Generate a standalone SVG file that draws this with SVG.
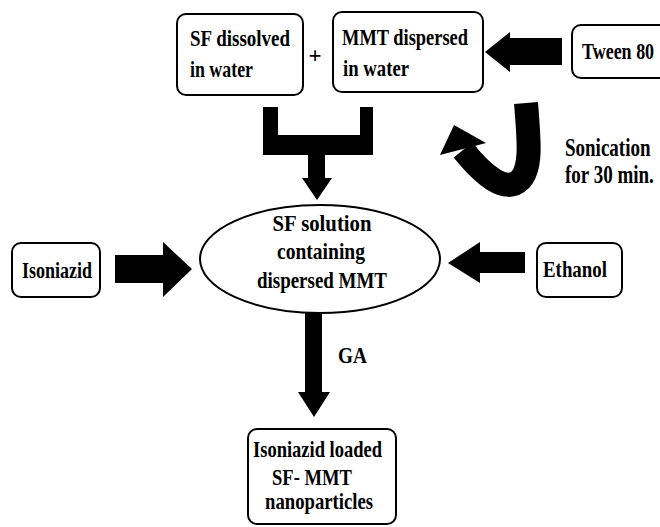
<svg xmlns="http://www.w3.org/2000/svg" width="660" height="527" viewBox="0 0 660 527">
  <defs>
    <style>
      .box { fill: #ffffff; stroke: #000000; stroke-width: 2; }
      .lbl { font-family: "Liberation Serif", "Times New Roman", serif; font-weight: bold; font-size: 23px; fill: #000000; }
      .tall { font-family: "Liberation Serif", "Times New Roman", serif; font-weight: bold; font-size: 19px; fill: #000000; }
      .arrow { fill: #000000; stroke: none; }
    </style>
  </defs>
  <rect width="660" height="527" fill="#ffffff"/>

  <!-- process steps -->
  <g id="sf-water">
    <rect class="box" x="177" y="14" width="126" height="81" rx="9"/>
    <text class="lbl" x="190" y="46" textLength="100" lengthAdjust="spacingAndGlyphs">SF dissolved</text>
    <text class="lbl" x="190" y="77" textLength="63" lengthAdjust="spacingAndGlyphs">in water</text>
  </g>
  <g id="plus">
    <text class="lbl" x="315" y="63" text-anchor="middle">+</text>
  </g>
  <g id="mmt-water">
    <rect class="box" x="333" y="12" width="150" height="80" rx="9"/>
    <text class="lbl" x="342" y="45" textLength="126" lengthAdjust="spacingAndGlyphs">MMT dispersed</text>
    <text class="lbl" x="343" y="76" textLength="66" lengthAdjust="spacingAndGlyphs">in water</text>
  </g>
  <g id="tween">
    <rect class="box" x="572" y="25" width="100" height="53" rx="9"/>
    <text class="tall" style="font-size:18px" transform="translate(582,59) scale(1,1.27)">Tween 80</text>
  </g>
  <g id="sonication">
    <text class="tall" transform="translate(565,156) scale(1,1.28)">Sonication</text>
    <text class="tall" transform="translate(565,183) scale(1,1.28)">for 30 min.</text>
  </g>
  <g id="sf-solution">
    <ellipse class="box" cx="320" cy="259" rx="120" ry="54"/>
    <text class="lbl" x="322" y="231" text-anchor="middle" textLength="99" lengthAdjust="spacingAndGlyphs">SF solution</text>
    <text class="lbl" x="321" y="259" text-anchor="middle" textLength="88" lengthAdjust="spacingAndGlyphs">containing</text>
    <text class="lbl" x="322" y="288" text-anchor="middle" textLength="130" lengthAdjust="spacingAndGlyphs">dispersed MMT</text>
  </g>
  <g id="isoniazid">
    <rect class="box" x="12" y="243" width="88" height="54" rx="9"/>
    <text class="lbl" x="22" y="278" textLength="70" lengthAdjust="spacingAndGlyphs">Isoniazid</text>
  </g>
  <g id="ethanol">
    <rect class="box" x="537" y="243" width="85" height="54" rx="9"/>
    <text class="lbl" x="543" y="277" textLength="64" lengthAdjust="spacingAndGlyphs">Ethanol</text>
  </g>
  <g id="ga">
    <text class="lbl" x="338" y="363" textLength="29" lengthAdjust="spacingAndGlyphs">GA</text>
  </g>
  <g id="nanoparticles">
    <rect class="box" x="248" y="429" width="148" height="95" rx="9"/>
    <text class="lbl" x="253" y="457" textLength="129" lengthAdjust="spacingAndGlyphs">Isoniazid loaded</text>
    <text class="lbl" x="272" y="485" textLength="80" lengthAdjust="spacingAndGlyphs">SF- MMT</text>
    <text class="lbl" x="265" y="509" textLength="108" lengthAdjust="spacingAndGlyphs">nanoparticles</text>
  </g>

  <!-- block arrows -->
  <g id="connectors">
    <!-- two solutions merged into one -->
    <polygon class="arrow" points="263,107 278,107 278,135 360,135 360,107 373,107 373,155 325,155 325,178 332,178 317,200 302,178 308,178 308,155 263,155"/>
    <!-- Tween 80 into MMT dispersion -->
    <polygon class="arrow" points="562,38 510,38 510,32 485,52 510,72 510,65 562,65"/>
    <!-- sonication loop -->
    <path d="M526,103 C529,140 532,168 520,180 C506,194 484,176 463,150" fill="none" stroke="#000" stroke-width="24"/>
    <polygon class="arrow" points="440,155 486,143 454,125"/>
    <!-- Isoniazid into solution -->
    <polygon class="arrow" points="115,255 163,255 163,242 192,269 163,297 163,283 115,283"/>
    <!-- Ethanol into solution -->
    <polygon class="arrow" points="525,252 480,252 480,242 448,263 480,283 480,273 525,273"/>
    <!-- GA crosslinking -->
    <polygon class="arrow" points="305,313 322,313 322,392 330,392 314,417 298,392 305,392"/>
  </g>
</svg>
